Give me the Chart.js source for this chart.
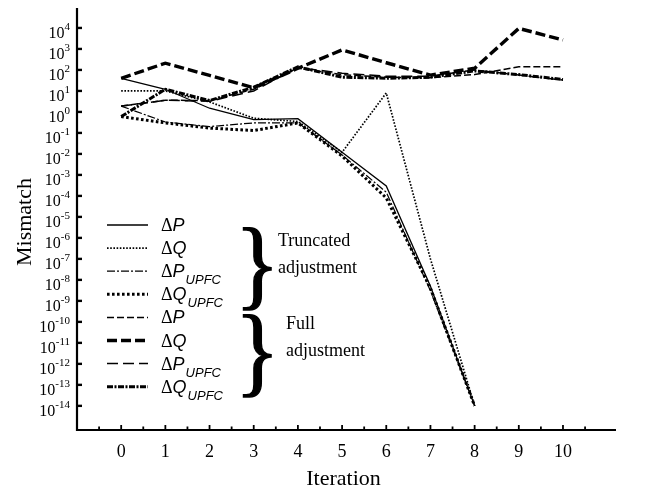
<!DOCTYPE html>
<html>
<head>
<meta charset="utf-8">
<script src="https://cdn.jsdelivr.net/npm/chart.js@4/dist/chart.umd.min.js"></script>
<style>
  html, body { margin: 0; padding: 0; background: #fff; }
  canvas { display: block; }
</style>
</head>
<body>
<canvas id="chart" width="652" height="493"></canvas>
<script>
// Iteration numbers on the horizontal axis
const iterations = [0, 1, 2, 3, 4, 5, 6, 7, 8, 9, 10];
const xTickLabels = ['0', '1', '2', '3', '4', '5', '6', '7', '8', '9', '10'];
// Decade exponents labelled on the logarithmic mismatch axis
const yExponents = [4, 3, 2, 1, 0, -1, -2, -3, -4, -5, -6, -7, -8, -9, -10, -11, -12, -13, -14];

// Truncated adjustment: converges at iteration 8
const truncDeltaP     = [40, 12, 1.5, 0.43, 0.48, 0.012, 3e-4, 5e-9, 1e-14];
const truncDeltaQ     = [10, 10, 3, 0.5, 0.35, 0.012, 8, 1e-7, 1e-14];
const truncDeltaPUpfc = [1.9, 0.33, 0.2, 0.3, 0.3, 0.009, 1.5e-4, 3e-9, 1e-14];
const truncDeltaQUpfc = [0.6, 0.3, 0.17, 0.13, 0.3, 0.008, 8e-5, 4e-9, 1e-14];

// Full adjustment: does not converge
const fullDeltaP      = [1.9, 3.6, 3.5, 12, 120, 60, 45, 42, 60, 140, 140];
const fullDeltaQ      = [40, 210, 55, 14, 120, 900, 220, 57, 120, 9500, 2700];
const fullDeltaPUpfc  = [1.9, 3.6, 3.2, 10, 130, 70, 50, 50, 100, 57, 33];
const fullDeltaQUpfc  = [0.6, 12, 3.5, 15, 140, 45, 40, 45, 90, 60, 35];

const seriesNames = ['ΔP', 'ΔQ', 'ΔP_UPFC', 'ΔQ_UPFC', 'ΔP', 'ΔQ', 'ΔP_UPFC', 'ΔQ_UPFC'];
const seriesValues = [truncDeltaP, truncDeltaQ, truncDeltaPUpfc, truncDeltaQUpfc,
                      fullDeltaP, fullDeltaQ, fullDeltaPUpfc, fullDeltaQUpfc];

// Line style for each series (width, dash pattern)
const lineStyles = [
  { w: 1.3, dash: [] },
  { w: 1.7, dash: [1.6, 1.6] },
  { w: 1.2, dash: [8, 2, 2, 2] },
  { w: 3.0, dash: [2.6, 2.4] },
  { w: 1.5, dash: [7, 3] },
  { w: 3.4, dash: [10, 4] },
  { w: 1.5, dash: [11, 5] },
  { w: 3.0, dash: [6, 1.5, 2, 1.5] }
];

const toPoints = vals => vals.map((v, i) => ({ x: iterations[i], y: v }));

const datasets = seriesValues.map((vals, i) => ({
  label: seriesNames[i],
  data: toPoints(vals),
  borderColor: '#000',
  borderWidth: lineStyles[i].w,
  borderDash: lineStyles[i].dash,
  borderCapStyle: 'butt',
  pointRadius: 0,
  tension: 0,
  fill: false
}));

const SERIF = '"Liberation Serif", "Times New Roman", serif';
const SANS = '"Liberation Sans", Arial, sans-serif';

// Axes, ticks, labels, legend and brace annotations
const decorations = {
  id: 'decorations',
  afterDraw(chart) {
    const ctx = chart.ctx;
    const xs = chart.scales.x, ys = chart.scales.y;
    const a = chart.chartArea;
    ctx.save();
    ctx.fillStyle = '#000';
    ctx.strokeStyle = '#000';

    // axis lines
    ctx.lineWidth = 2.2;
    ctx.setLineDash([]);
    ctx.beginPath();
    ctx.moveTo(a.left, a.top);
    ctx.lineTo(a.left, a.bottom);
    ctx.lineTo(a.right, a.bottom);
    ctx.stroke();

    // x ticks (inward), major at integers, minor at halves
    ctx.lineWidth = 1.8;
    for (let v = -0.5; v <= 10.5; v += 0.5) {
      const px = xs.getPixelForValue(v);
      const len = Number.isInteger(v) ? 5 : 3.5;
      ctx.beginPath();
      ctx.moveTo(px, a.bottom);
      ctx.lineTo(px, a.bottom - len);
      ctx.stroke();
    }
    ctx.font = '18px ' + SERIF;
    ctx.textAlign = 'center';
    ctx.textBaseline = 'middle';
    iterations.forEach((v, i) => {
      ctx.fillText(xTickLabels[i], xs.getPixelForValue(v), a.bottom + 22);
    });

    // y ticks and power-of-ten labels
    ctx.lineWidth = 2.4;
    yExponents.forEach(e => {
      const py = ys.getPixelForValue(Math.pow(10, e));
      ctx.beginPath();
      ctx.moveTo(a.left, py);
      ctx.lineTo(a.left + 5, py);
      ctx.stroke();
      const ex = String(e);
      ctx.font = '11px ' + SERIF;
      const we = ctx.measureText(ex).width;
      const right = a.left - 7;
      ctx.textAlign = 'left';
      ctx.textBaseline = 'alphabetic';
      ctx.fillText(ex, right - we, py + 2);
      ctx.font = '16px ' + SERIF;
      ctx.textAlign = 'right';
      ctx.fillText('10', right - we, py + 10);
    });

    // axis titles
    ctx.font = '22px ' + SERIF;
    ctx.textAlign = 'center';
    ctx.textBaseline = 'middle';
    ctx.fillText('Iteration', (a.left + a.right) / 2 - 3, 479);
    ctx.save();
    ctx.translate(25, 222);
    ctx.rotate(-Math.PI / 2);
    ctx.fillText('Mismatch', 0, 0);
    ctx.restore();

    // legend
    const rowY0 = 225, rowStep = 23.1;
    seriesNames.forEach((name, i) => {
      const y = rowY0 + i * rowStep;
      const st = lineStyles[i];
      ctx.lineWidth = st.w;
      ctx.setLineDash(st.dash);
      ctx.beginPath();
      ctx.moveTo(107, y);
      ctx.lineTo(148, y);
      ctx.stroke();
      ctx.setLineDash([]);
      const parts = name.split('_');
      const letter = parts[0].slice(1);
      ctx.textAlign = 'left';
      ctx.textBaseline = 'alphabetic';
      ctx.font = '18px ' + SERIF;
      ctx.fillText('Δ', 161, y + 6);
      const wd = ctx.measureText('Δ').width;
      ctx.font = 'italic 18px ' + SANS;
      ctx.fillText(letter, 161 + wd, y + 6);
      const wl = ctx.measureText(letter).width;
      if (parts[1]) {
        ctx.font = 'italic 13px ' + SANS;
        ctx.fillText(parts[1], 161 + wd + wl + 1, y + 13);
      }
    });

    // braces grouping the legend entries
    const brace = (xLeft, yTop, yBottom) => {
      ctx.save();
      ctx.font = '64px ' + SERIF;
      ctx.textAlign = 'left';
      ctx.textBaseline = 'middle';
      const h = yBottom - yTop;
      const sy = h / 58;
      ctx.translate(xLeft, (yTop + yBottom) / 2);
      ctx.scale(1.45, sy);
      ctx.lineWidth = 0.9;
      ctx.fillText('}', 0, 2);
      ctx.strokeText('}', 0, 2);
      ctx.restore();
    };
    brace(235, 222, 313);
    brace(235, 309, 400);

    ctx.font = '18px ' + SERIF;
    ctx.textAlign = 'left';
    ctx.textBaseline = 'middle';
    ctx.fillText('Truncated', 278, 241);
    ctx.fillText('adjustment', 278, 268);
    ctx.fillText('Full', 286, 324);
    ctx.fillText('adjustment', 286, 351);

    ctx.restore();
  }
};

new Chart(document.getElementById('chart'), {
  type: 'line',
  data: { datasets },
  options: {
    responsive: false,
    animation: false,
    devicePixelRatio: 1,
    layout: { padding: { left: 77, right: 36, top: 8, bottom: 63 } },
    plugins: { legend: { display: false }, title: { display: false }, tooltip: { enabled: false } },
    scales: {
      x: { type: 'linear', min: -1, max: 11.2, display: false },
      y: { type: 'logarithmic', min: Math.pow(10, -15.15), max: Math.pow(10, 4.95), display: false }
    }
  },
  plugins: [decorations]
});
</script>
</body>
</html>
